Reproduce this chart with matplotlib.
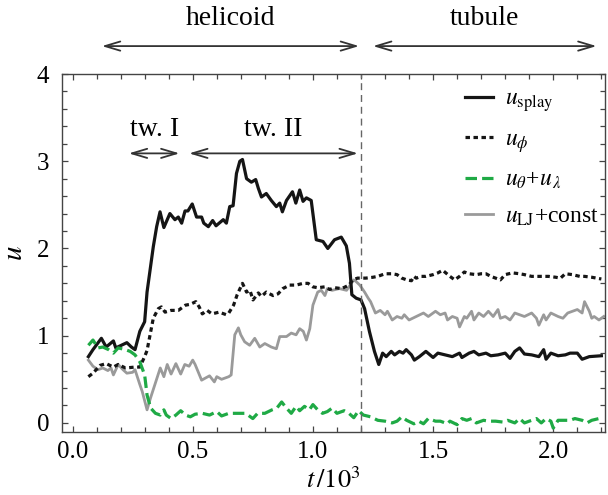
import matplotlib
matplotlib.use("Agg")
import matplotlib.pyplot as plt
from matplotlib.ticker import MultipleLocator, FormatStrFormatter

# === データ (t/10^3, u) 図から読み取り ===
splay_t = [0.066, 0.085, 0.12, 0.14, 0.17, 0.18, 0.226, 0.245, 0.26, 0.28,
           0.30, 0.31, 0.336, 0.35, 0.364, 0.38, 0.405, 0.426, 0.44, 0.454, 0.468,
           0.48, 0.498, 0.516, 0.537, 0.546, 0.565, 0.583, 0.597, 0.627, 0.64,
           0.654, 0.668, 0.682, 0.696, 0.707, 0.724, 0.744, 0.762, 0.773, 0.786,
           0.806, 0.827, 0.848, 0.862, 0.873, 0.89, 0.915, 0.929, 0.945, 0.959,
           0.973, 0.993, 1.014, 1.042, 1.062, 1.09, 1.118, 1.139, 1.152, 1.162,
           1.18, 1.20, 1.215, 1.235, 1.256, 1.274, 1.29, 1.305, 1.326, 1.34,
           1.36, 1.375, 1.388, 1.41, 1.422, 1.443, 1.47, 1.50, 1.52, 1.55,
           1.58, 1.61, 1.62, 1.65, 1.67, 1.69, 1.72, 1.74, 1.77, 1.80,
           1.82, 1.84, 1.86, 1.88, 1.91, 1.94, 1.96, 1.97, 1.99, 2.02,
           2.05, 2.07, 2.10, 2.12, 2.15, 2.20]
splay_u = [0.76, 0.84, 0.97, 0.87, 0.94, 0.86, 0.92, 0.87, 0.84, 1.05,
           1.16, 1.50, 2.02, 2.25, 2.42, 2.24, 2.40, 2.33, 2.36, 2.29, 2.43,
           2.43, 2.51, 2.36, 2.36, 2.29, 2.25, 2.32, 2.26, 2.33, 2.29,
           2.48, 2.49, 2.86, 3.00, 3.02, 2.80, 2.76, 2.79, 2.69, 2.59,
           2.63, 2.55, 2.48, 2.52, 2.42, 2.55, 2.65, 2.52, 2.67, 2.54,
           2.58, 2.55, 2.10, 2.08, 2.00, 2.10, 2.13, 2.03, 1.83, 1.47,
           1.43, 1.41, 1.31, 1.05, 0.82, 0.67, 0.80, 0.76, 0.82, 0.78,
           0.82, 0.80, 0.84, 0.78, 0.72, 0.76, 0.82, 0.75, 0.80, 0.78,
           0.76, 0.80, 0.75, 0.80, 0.82, 0.78, 0.80, 0.77, 0.78, 0.80,
           0.74, 0.82, 0.86, 0.79, 0.78, 0.76, 0.84, 0.73, 0.80, 0.77,
           0.78, 0.80, 0.80, 0.73, 0.76, 0.77]

phi_t = [0.066, 0.085, 0.115, 0.14, 0.17, 0.19, 0.22, 0.26, 0.28, 0.30,
         0.31, 0.336, 0.357, 0.37, 0.385, 0.41, 0.44, 0.45, 0.47, 0.49,
         0.513, 0.527, 0.54, 0.56, 0.58, 0.61, 0.64, 0.65, 0.67, 0.685,
         0.707, 0.724, 0.738, 0.751, 0.773, 0.786, 0.806, 0.834, 0.855, 0.875,
         0.903, 0.93, 0.959, 0.98, 1.00, 1.02, 1.05, 1.07, 1.09, 1.12,
         1.15, 1.166, 1.186, 1.22, 1.25, 1.27, 1.30, 1.33, 1.35, 1.37,
         1.39, 1.41, 1.42, 1.43, 1.45, 1.47, 1.50, 1.52, 1.54, 1.57,
         1.59, 1.61, 1.63, 1.65, 1.68, 1.70, 1.72, 1.74, 1.76, 1.78,
         1.80, 1.83, 1.86, 1.88, 1.91, 1.93, 1.96, 1.98, 2.01, 2.03,
         2.05, 2.08, 2.11, 2.13, 2.16, 2.18, 2.20]
phi_u = [0.53, 0.57, 0.66, 0.68, 0.64, 0.67, 0.63, 0.64, 0.64, 0.76,
         0.83, 1.20, 1.31, 1.33, 1.27, 1.29, 1.29, 1.31, 1.35, 1.36,
         1.39, 1.33, 1.25, 1.29, 1.25, 1.27, 1.24, 1.26, 1.35, 1.47,
         1.60, 1.50, 1.52, 1.41, 1.49, 1.45, 1.50, 1.46, 1.48, 1.54,
         1.58, 1.58, 1.60, 1.60, 1.56, 1.55, 1.56, 1.53, 1.55, 1.54,
         1.58, 1.64, 1.66, 1.66, 1.67, 1.68, 1.71, 1.71, 1.70, 1.66,
         1.64, 1.63, 1.68, 1.66, 1.68, 1.68, 1.70, 1.72, 1.75, 1.68,
         1.64, 1.68, 1.73, 1.71, 1.70, 1.71, 1.71, 1.68, 1.66, 1.64,
         1.70, 1.72, 1.71, 1.70, 1.68, 1.68, 1.68, 1.68, 1.67, 1.66,
         1.71, 1.70, 1.68, 1.68, 1.67, 1.66, 1.65]

lj_t = [0.066, 0.085, 0.106, 0.126, 0.147, 0.16, 0.17, 0.19, 0.21, 0.226,
        0.25, 0.26, 0.28, 0.29, 0.31, 0.325, 0.345, 0.365, 0.38, 0.394,
        0.41, 0.43, 0.45, 0.467, 0.485, 0.50, 0.51, 0.537, 0.55, 0.57,
        0.59, 0.60, 0.62, 0.65, 0.66, 0.675, 0.69, 0.70, 0.716, 0.737,
        0.758, 0.779, 0.80, 0.827, 0.848, 0.862, 0.89, 0.91, 0.93, 0.945,
        0.96, 0.973, 0.987, 1.00, 1.02, 1.035, 1.05, 1.06, 1.08, 1.11,
        1.14, 1.17, 1.18, 1.195, 1.215, 1.23, 1.24, 1.26, 1.28, 1.30,
        1.31, 1.33, 1.35, 1.37, 1.38, 1.40, 1.43, 1.46, 1.48, 1.51,
        1.53, 1.55, 1.56, 1.58, 1.60, 1.61, 1.63, 1.64, 1.66, 1.67,
        1.69, 1.71, 1.73, 1.75, 1.77, 1.78, 1.80, 1.82, 1.84, 1.86,
        1.88, 1.91, 1.93, 1.94, 1.96, 1.97, 1.99, 2.02, 2.04, 2.06,
        2.08, 2.10, 2.12, 2.13, 2.15, 2.16, 2.17, 2.19, 2.21]
lj_u = [0.72, 0.65, 0.61, 0.63, 0.60, 0.63, 0.55, 0.67, 0.61, 0.57,
        0.58, 0.61, 0.44, 0.36, 0.15, 0.29, 0.46, 0.63, 0.53, 0.67,
        0.56, 0.68, 0.56, 0.67, 0.65, 0.72, 0.67, 0.49, 0.51, 0.54,
        0.47, 0.53, 0.50, 0.53, 0.55, 1.01, 1.09, 1.01, 0.93, 0.89,
        0.97, 0.87, 0.91, 0.87, 0.85, 0.99, 0.99, 1.03, 1.01, 1.08,
        1.05, 0.95, 1.08, 1.35, 1.50, 1.52, 1.46, 1.54, 1.52, 1.54,
        1.52, 1.64, 1.62, 1.58, 1.50, 1.43, 1.39, 1.26, 1.29, 1.24,
        1.28, 1.18, 1.22, 1.20, 1.24, 1.18, 1.22, 1.26, 1.22, 1.28,
        1.24, 1.26, 1.18, 1.22, 1.20, 1.10, 1.22, 1.20, 1.28, 1.18,
        1.26, 1.22, 1.28, 1.22, 1.30, 1.20, 1.22, 1.18, 1.26, 1.24,
        1.22, 1.26, 1.20, 1.12, 1.24, 1.18, 1.26, 1.22, 1.20, 1.26,
        1.28, 1.30, 1.26, 1.39, 1.28, 1.20, 1.22, 1.18, 1.22]

gr_t = [0.066, 0.085, 0.106, 0.126, 0.15, 0.17, 0.19, 0.22, 0.24, 0.26,
        0.28, 0.30, 0.31, 0.325, 0.345, 0.365, 0.38, 0.39, 0.41, 0.43,
        0.45, 0.47, 0.49, 0.51, 0.54, 0.57, 0.60, 0.62, 0.65, 0.69,
        0.72, 0.75, 0.77, 0.80, 0.83, 0.85, 0.87, 0.89, 0.91, 0.93,
        0.945, 0.965, 0.985, 1.00, 1.02, 1.04, 1.06, 1.08, 1.10, 1.13,
        1.15, 1.17, 1.19, 1.21, 1.24, 1.27, 1.30, 1.33, 1.35, 1.37,
        1.39, 1.42, 1.44, 1.46, 1.48, 1.51, 1.53, 1.56, 1.57, 1.60,
        1.62, 1.64, 1.66, 1.68, 1.71, 1.73, 1.76, 1.79, 1.81, 1.84,
        1.86, 1.88, 1.90, 1.93, 1.95, 1.97, 1.99, 2.00, 2.02, 2.04,
        2.07, 2.09, 2.12, 2.14, 2.16, 2.19, 2.20]
gr_u = [0.89, 0.95, 0.86, 0.87, 0.84, 0.80, 0.86, 0.84, 0.82, 0.78,
        0.70, 0.55, 0.32, 0.17, 0.11, 0.09, 0.15, 0.09, 0.05, 0.09,
        0.14, 0.09, 0.07, 0.10, 0.11, 0.09, 0.13, 0.08, 0.11, 0.11,
        0.11, 0.05, 0.11, 0.11, 0.15, 0.17, 0.24, 0.17, 0.11, 0.19,
        0.14, 0.19, 0.15, 0.21, 0.15, 0.11, 0.13, 0.17, 0.11, 0.14,
        0.11, 0.06, 0.14, 0.09, 0.07, 0.03, 0.02, 0.00, 0.02, 0.07,
        0.03, -0.01, 0.02, -0.01, 0.05, 0.02, 0.02, -0.01, 0.02, -0.02,
        0.05, 0.03, 0.05, 0.00, 0.03, 0.02, 0.02, 0.01, 0.03, 0.00,
        0.05, 0.00, 0.02, 0.05, 0.00, 0.05, 0.02, -0.06, 0.03, 0.03,
        0.03, 0.05, 0.03, 0.00, 0.03, 0.05, 0.07]

t_transition = 1.2
# 区間ラベル: (テキスト, 開始, 終了)
phases_top = [("helicoid", 0.122, 1.192), ("tubule", 1.25, 2.18)]
phases_in = [("tw. I", 0.234, 0.445), ("tw. II", 0.485, 1.187)]

# === スタイル ===
plt.rcParams["font.family"] = ["Liberation Serif", "DejaVu Serif"]
plt.rcParams["mathtext.fontset"] = "stix"
plt.rcParams["font.size"] = 16

fig = plt.figure(figsize=(6.08, 4.95), dpi=100)
ax = fig.add_axes([0.1015, 0.128, 0.8935, 0.7225])

l_lj, = ax.plot(lj_t, lj_u, color="#9a9a9a", lw=2.0, label=r"$u_{\rm LJ}$+const")
l_phi, = ax.plot(phi_t, phi_u, color="#151515", lw=2.3, dashes=(1.4, 1.1),
                 label=r"$u_{\phi}$")
l_splay, = ax.plot(splay_t, splay_u, color="#151515", lw=2.3,
                   label=r"$u_{\rm splay}$")
l_gr, = ax.plot(gr_t, gr_u, color="#1faa45", lw=2.3, dashes=(3.6, 1.6),
                label=r"$u_{\theta}$+$u_{\,\lambda}$")

ax.axvline(t_transition, color="#666666", lw=1.0, dashes=(5, 3.5))

ax.set_xlim(-0.045, 2.215)
ax.set_ylim(-0.1, 4.0)
ax.xaxis.set_major_locator(MultipleLocator(0.5))
ax.xaxis.set_minor_locator(MultipleLocator(0.1))
ax.xaxis.set_major_formatter(FormatStrFormatter("%.1f"))
ax.yaxis.set_major_locator(MultipleLocator(1))
ax.yaxis.set_minor_locator(MultipleLocator(0.2))
ax.tick_params(which="both", direction="in", top=True, right=True,
               color="#444444", width=0.9)
ax.tick_params(which="major", length=4.5, labelsize=18)
ax.tick_params(axis="x", which="major", pad=7)
ax.tick_params(axis="y", which="major", pad=9)
ax.tick_params(which="minor", length=3.5)
for s in ax.spines.values():
    s.set_color("#444444")
    s.set_linewidth(1.0)

ax.set_xlabel(r"$t\,/\mathrm{10}^3$", fontsize=19, labelpad=3)
ax.set_ylabel(r"$u$", fontsize=21, labelpad=6)

arrow_kw = dict(arrowstyle="<->,head_length=1.1,head_width=0.33", lw=1.3,
                color="#333333", shrinkA=0, shrinkB=0, mutation_scale=10)
for name, a, b in phases_top:
    ax.annotate("", xy=(b, 4.32), xytext=(a, 4.32), arrowprops=arrow_kw,
                annotation_clip=False)
    ax.text((a + b) / 2, 4.64, name, ha="center", va="center", fontsize=20,
            clip_on=False)
for name, a, b in phases_in:
    ax.annotate("", xy=(b, 3.09), xytext=(a, 3.09), arrowprops=arrow_kw)
    ax.text((a + b) / 2, 3.36, name, ha="center", va="center", fontsize=20)

# === 凡例 ===
ax.legend([l_splay, l_phi, l_gr, l_lj],
          [l.get_label() for l in [l_splay, l_phi, l_gr, l_lj]],
          loc="upper left", bbox_to_anchor=(0.742, 0.96), frameon=False,
          borderpad=0, borderaxespad=0, handlelength=1.2, handletextpad=0.5,
          labelspacing=0.62, fontsize=17)

fig.savefig("out.png", dpi=100)
